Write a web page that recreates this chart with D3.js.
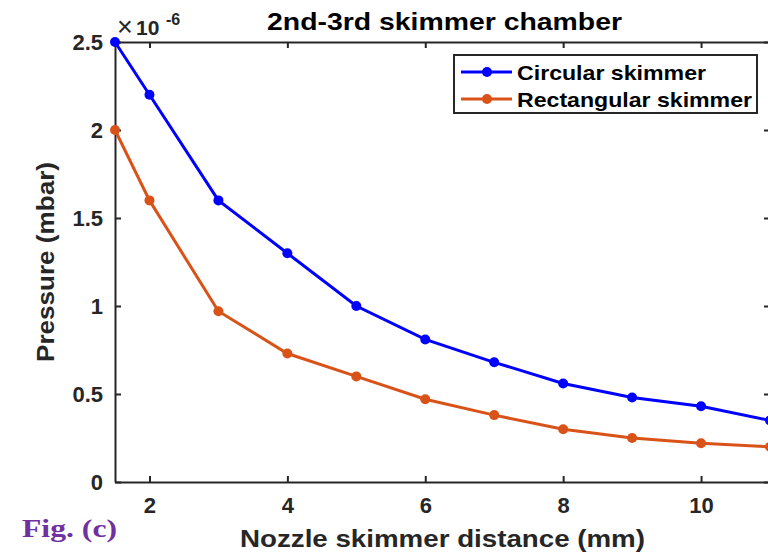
<!DOCTYPE html>
<html>
<head>
<meta charset="utf-8">
<script src="https://cdn.jsdelivr.net/npm/d3@7"></script>
<style>
  body { margin: 0; background: #fff; }
  svg { display: block; font-family: "Liberation Sans", Arial, sans-serif; }
</style>
</head>
<body>
<svg width="768" height="560"></svg>
<script>
var distance = [1.5, 2, 3, 4, 5, 6, 7, 8, 9, 10, 11];
var circular = [2.5, 2.2, 1.6, 1.3, 1.0, 0.81, 0.68, 0.56, 0.48, 0.43, 0.35];
var rectangular = [2.0, 1.6, 0.97, 0.73, 0.60, 0.47, 0.38, 0.30, 0.25, 0.22, 0.20];
var xTicks = [2, 4, 6, 8, 10];
var yTicks = [0, 0.5, 1, 1.5, 2, 2.5];

var series = [
  {name: "Circular skimmer", values: circular, color: "#0000ff", len: 189},
  {name: "Rectangular skimmer", values: rectangular, color: "#d95319", len: 235}
];

var svg = d3.select("svg"),
    plotLeft = 115, plotRight = 770, plotTop = 42, plotBottom = 482,
    axisColor = "#262626";

var x = d3.scaleLinear().domain([1.5, 11]).range([plotLeft, plotRight]);
var y = d3.scaleLinear().domain([0, 2.5]).range([plotBottom, plotTop]);

// axes, MATLAB style with inward ticks and box
svg.append("g")
    .attr("transform", "translate(0," + plotBottom + ")")
    .call(d3.axisBottom(x).tickValues(xTicks).tickSizeInner(-6).tickSizeOuter(0).tickPadding(15).tickFormat(d3.format("d")))
    .call(styleAxis);

svg.append("g")
    .attr("transform", "translate(0," + plotTop + ")")
    .call(d3.axisTop(x).tickValues(xTicks).tickSizeInner(-6).tickSizeOuter(0).tickFormat(""))
    .call(styleAxis);

svg.append("g")
    .attr("transform", "translate(" + plotLeft + ",0)")
    .call(d3.axisLeft(y).tickValues(yTicks).tickSizeInner(-6).tickSizeOuter(0).tickPadding(12).tickFormat(d3.format("")))
    .call(styleAxis);

svg.append("g")
    .attr("transform", "translate(" + plotRight + ",0)")
    .call(d3.axisRight(y).tickValues(yTicks).tickSizeInner(-6).tickSizeOuter(0).tickFormat(""))
    .call(styleAxis);

function styleAxis(g) {
  g.select(".domain").attr("stroke", axisColor).attr("stroke-width", 2);
  g.selectAll(".tick line").attr("stroke", axisColor).attr("stroke-width", 2);
  g.selectAll(".tick text")
      .attr("fill", axisColor)
      .style("font-size", "22px")
      .style("font-weight", "bold");
}

// lines and markers
var line = d3.line()
    .x(function(d, i) { return x(distance[i]); })
    .y(function(d) { return y(d); });

series.forEach(function(s) {
  svg.append("path")
      .datum(s.values)
      .attr("fill", "none")
      .attr("stroke", s.color)
      .attr("stroke-width", 3)
      .attr("d", line);
  svg.append("g").selectAll("circle")
      .data(s.values)
      .enter().append("circle")
      .attr("cx", function(d, i) { return x(distance[i]); })
      .attr("cy", function(d) { return y(d); })
      .attr("r", 5)
      .attr("fill", s.color);
});

// exponent label
svg.append("text")
    .attr("x", 117).attr("y", 36)
    .attr("fill", axisColor)
    .style("font-size", "27px")
    .text("\u00d7");
svg.append("text")
    .attr("x", 136).attr("y", 35)
    .attr("fill", axisColor)
    .style("font-size", "21px")
    .style("font-weight", "bold")
    .text("10");
svg.append("text")
    .attr("x", 166).attr("y", 25)
    .attr("fill", axisColor)
    .style("font-size", "16px")
    .style("font-weight", "bold")
    .text("-6");

// title
svg.append("text")
    .attr("x", 267)
    .attr("y", 30)
    .attr("textLength", 355)
    .attr("lengthAdjust", "spacingAndGlyphs")
    .attr("fill", "#000")
    .style("font-size", "24px")
    .style("font-weight", "bold")
    .text("2nd-3rd skimmer chamber");

// axis labels
svg.append("text")
    .attr("x", 240)
    .attr("y", 547)
    .attr("textLength", 405)
    .attr("lengthAdjust", "spacingAndGlyphs")
    .attr("fill", axisColor)
    .style("font-size", "23px")
    .style("font-weight", "bold")
    .text("Nozzle skimmer distance (mm)");

svg.append("text")
    .attr("transform", "translate(54,362) rotate(-90)")
    .attr("textLength", 200)
    .attr("lengthAdjust", "spacingAndGlyphs")
    .attr("fill", axisColor)
    .style("font-size", "23px")
    .style("font-weight", "bold")
    .text("Pressure (mbar)");

// legend
var legend = svg.append("g").attr("transform", "translate(454,55)");
legend.append("rect")
    .attr("width", 303)
    .attr("height", 58)
    .attr("fill", "#fff")
    .attr("stroke", axisColor)
    .attr("stroke-width", 2);

series.forEach(function(s, i) {
  var row = legend.append("g").attr("transform", "translate(0," + (17 + i * 27) + ")");
  row.append("line")
      .attr("x1", 7).attr("x2", 58)
      .attr("stroke", s.color).attr("stroke-width", 3);
  row.append("circle").attr("cx", 33).attr("r", 5).attr("fill", s.color);
  row.append("text")
      .attr("x", 63)
      .attr("dy", "0.36em")
      .attr("textLength", s.len)
      .attr("lengthAdjust", "spacingAndGlyphs")
      .attr("fill", "#000")
      .style("font-size", "21px")
      .style("font-weight", "bold")
      .text(s.name);
});

// figure label
svg.append("text")
    .attr("x", 22)
    .attr("y", 537)
    .attr("textLength", 95)
    .attr("lengthAdjust", "spacingAndGlyphs")
    .attr("fill", "#7030a0")
    .style("font-family", "'Liberation Serif', 'DejaVu Serif', serif")
    .style("font-size", "25px")
    .style("font-weight", "bold")
    .text("Fig. (c)");
</script>
</body>
</html>
